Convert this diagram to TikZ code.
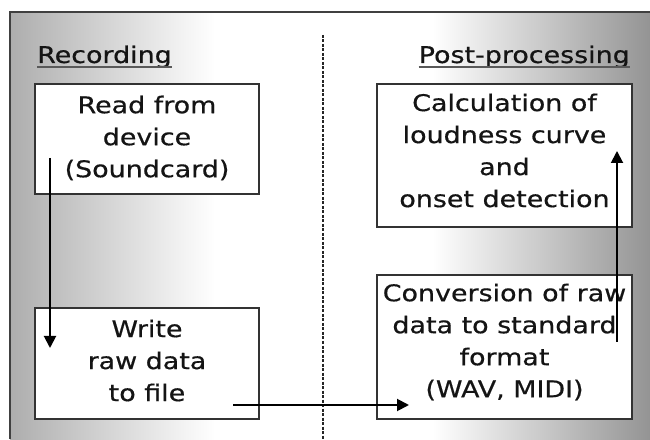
\documentclass[tikz,border=0pt]{standalone}
\usepackage{fontspec}
\setmainfont{DejaVu Sans}[FakeBold=0.5]
\usetikzlibrary{arrows.meta}
\newcommand{\hs}[1]{\scalebox{1.17}[1]{#1}}
\pgfdeclarehorizontalshading{bgshade}{100bp}{color(0bp)=(black!32); color(25bp)=(black!32); color(41bp)=(white); color(58bp)=(white); color(75bp)=(black!42); color(100bp)=(black!42)}
\begin{document}
\begin{tikzpicture}[x=1pt,y=1pt,
  boxst/.style={draw=black!80, line width=1.8pt, fill=white, inner sep=0pt},
  txt/.style={align=center, font=\fontsize{23}{32}\selectfont, text=black!92},
  head/.style={inner sep=0pt, font=\fontsize{23}{32}\selectfont, text=black!92},
  arr/.style={line width=1.9pt, black, -{Triangle[length=12pt,width=12pt]}},
  uline/.style={line width=2pt, black!65}]
\useasboundingbox (0,0) rectangle (650,439);
% background
\shade[shading=bgshade] (10,0) rectangle (650,427);
\draw[line width=1.6pt, black!75] (10,0) -- (10,427) -- (650,427);
% divider
\draw[black!85, line width=1.5pt, dash pattern=on 3pt off 1.5pt] (323,404) -- (323,0);
% headings
\node[head, anchor=base west] (rec) at (37,376) {\hs{Recording}};
\node[head, anchor=base east] (post) at (630,376) {\hs{Post-processing}};
\draw[uline] ([yshift=-4pt]rec.base west) -- ([yshift=-4pt]rec.base east);
\draw[uline] ([yshift=-4pt]post.base west) -- ([yshift=-4pt]post.base east);
% boxes
\node[boxst, minimum width=224pt, minimum height=110pt] (b1) at (147,300) {};
\node[boxst, minimum width=224pt, minimum height=111pt] (b2) at (147,75.5) {};
\node[boxst, minimum width=255pt, minimum height=143pt] (b3) at (504.5,283.5) {};
\node[boxst, minimum width=255pt, minimum height=144pt] (b4) at (504.5,92) {};
% texts
\node[txt] (t1) at ([yshift=1pt]b1.center) {\hs{Read from}\\\hs{device}\\\hs{(Soundcard)}};
\node[txt] (t2) at ([yshift=3pt]b2.center) {\hs{Write}\\\hs{raw data}\\\hs{to file}};
\node[txt] (t3) at ([yshift=5pt]b3.center) {\hs{Calculation of}\\\hs{loudness curve}\\\hs{and}\\\hs{onset detection}};
\node[txt] (t4) at ([yshift=5pt]b4.center) {\hs{Conversion of raw}\\\hs{data to standard}\\\hs{format}\\\hs{(WAV, MIDI)}};
% arrows
\coordinate (a1s) at (50,281);
\coordinate (a1e) at (50,91);
\coordinate (a2s) at (233,34);
\coordinate (a2e) at (409,34);
\coordinate (a3s) at (617,97);
\coordinate (a3e) at (617,288);
\draw[arr] (a1s) -- (a1e);
\draw[arr] (a2s) -- (a2e);
\draw[arr] (a3s) -- (a3e);
\end{tikzpicture}
\end{document}
